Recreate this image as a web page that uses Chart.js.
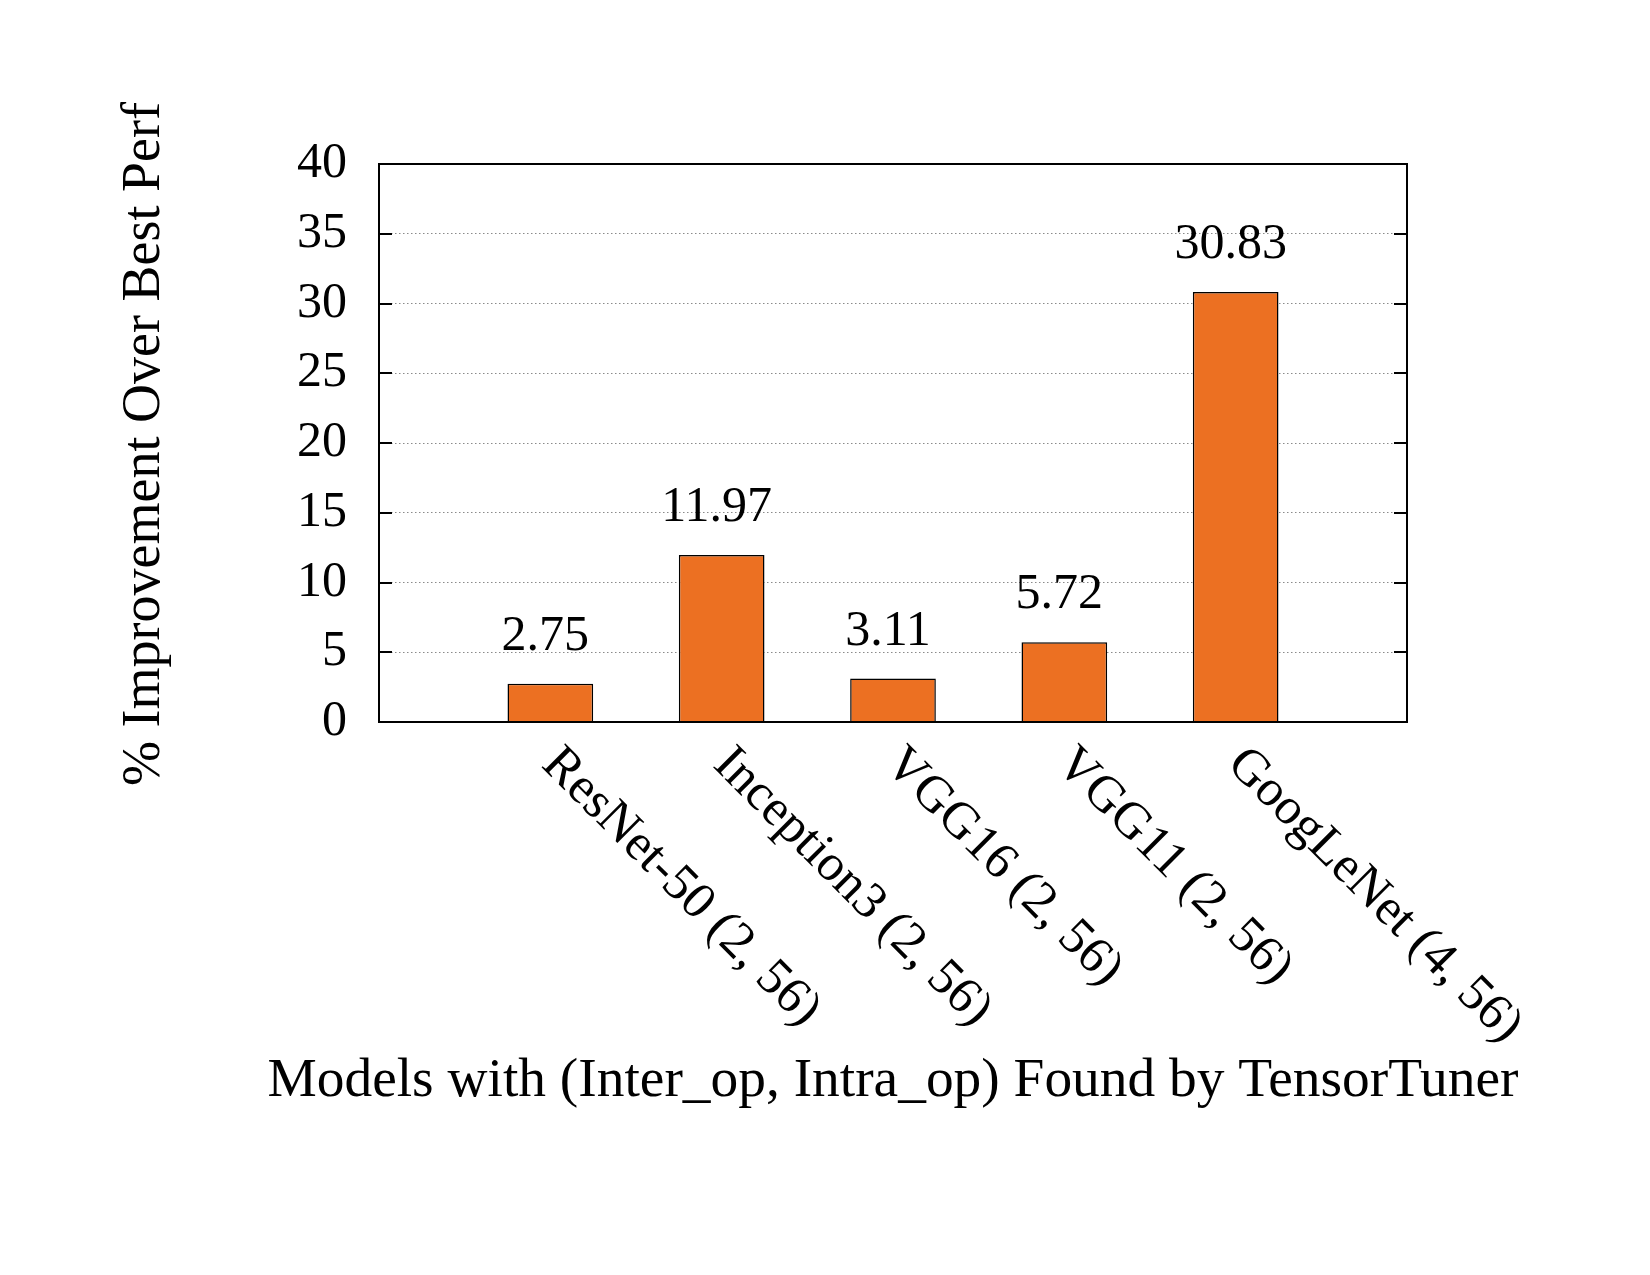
<!DOCTYPE html>
<html>
<head>
<meta charset="utf-8">
<script src="https://cdn.jsdelivr.net/npm/chart.js@4"></script>
<style>
  html, body { margin: 0; padding: 0; background: #ffffff; }
  #wrap { width: 1650px; height: 1275px; }
</style>
</head>
<body>
<div id="wrap"><canvas id="c" width="1650" height="1275"></canvas></div>
<script>
const models = ['ResNet-50 (2, 56)', 'Inception3 (2, 56)', 'VGG16 (2, 56)', 'VGG11 (2, 56)', 'GoogLeNet (4, 56)'];
const improvement = [2.75, 11.97, 3.11, 5.72, 30.83];
const yTicks = [0, 5, 10, 15, 20, 25, 30, 35, 40];
const yTitle = '% Improvement Over Best Perf';
const xTitle = 'Models with (Inter_op, Intra_op) Found by TensorTuner';

const FONT = "'Liberation Serif', 'DejaVu Serif', serif";
const labels = [''].concat(models, ['']);
const values = [null].concat(improvement, [null]);

const decorPlugin = {
  id: 'decor',
  afterDatasetsDraw(chart) {
    const ctx = chart.ctx;
    const a = chart.chartArea;
    const y = chart.scales.y;
    ctx.save();
    ctx.strokeStyle = '#000';
    ctx.lineWidth = 2;
    yTicks.forEach(v => {
      const py = Math.round(y.getPixelForValue(v));
      ctx.beginPath();
      ctx.moveTo(a.left, py); ctx.lineTo(a.left + 13, py);
      ctx.moveTo(a.right - 13, py); ctx.lineTo(a.right, py);
      ctx.stroke();
    });
    ctx.strokeRect(a.left, a.top, a.right - a.left, a.bottom - a.top);
    const meta = chart.getDatasetMeta(0);
    ctx.fillStyle = '#000';
    ctx.font = '50px ' + FONT;
    ctx.textAlign = 'center';
    ctx.textBaseline = 'alphabetic';
    meta.data.forEach((bar, i) => {
      const v = values[i];
      if (v === null || v === undefined) return;
      ctx.fillText(v.toFixed(2), bar.x - 5, bar.y - 34);
    });
    ctx.restore();
  },
  afterDraw(chart) {
    const ctx = chart.ctx;
    const a = chart.chartArea;
    const x = chart.scales.x;
    ctx.save();
    ctx.fillStyle = '#000';
    ctx.font = '51.5px ' + FONT;
    ctx.textAlign = 'left';
    ctx.textBaseline = 'alphabetic';
    labels.forEach((lab, i) => {
      if (!lab) return;
      const px = x.getPixelForValue(i);
      ctx.save();
      ctx.translate(px - 10, a.bottom + 44);
      ctx.rotate(Math.PI / 4);
      ctx.fillText(lab, 0, 0);
      ctx.restore();
    });
    ctx.font = '55.4px ' + FONT;
    ctx.textAlign = 'center';
    ctx.textBaseline = 'middle';
    ctx.fillText(xTitle, (a.left + a.right) / 2, 1081);
    ctx.font = '54px ' + FONT;
    ctx.save();
    ctx.translate(145, (a.top + a.bottom) / 2 + 1);
    ctx.rotate(-Math.PI / 2);
    ctx.fillText(yTitle, 0, 0);
    ctx.restore();
    ctx.restore();
  }
};

new Chart(document.getElementById('c'), {
  type: 'bar',
  data: {
    labels: labels,
    datasets: [{
      data: values,
      backgroundColor: '#ec7022',
      borderColor: '#000000',
      borderWidth: 1.5,
      borderSkipped: 'start',
      barPercentage: 0.5,
      categoryPercentage: 1.0
    }]
  },
  options: {
    responsive: false,
    devicePixelRatio: 1,
    animation: false,
    layout: { padding: { left: 0, top: 164, right: 243, bottom: 553 } },
    plugins: { legend: { display: false }, tooltip: { enabled: false }, title: { display: false } },
    scales: {
      x: {
        type: 'category',
        offset: false,
        grid: { display: false, drawTicks: false },
        border: { display: false },
        ticks: { display: false },
        afterFit(scale) { scale.height = 0; }
      },
      y: {
        min: 0, max: 40,
        afterBuildTicks(scale) { scale.ticks = yTicks.map(v => ({ value: v })); },
        grid: { color: '#8a8a8a', lineWidth: 1, drawTicks: false, tickLength: 0 },
        border: { display: false, dash: [1.5, 2.5] },
        ticks: { color: '#000', font: { family: FONT, size: 50 }, padding: 32 },
        afterFit(scale) { scale.width = 379; }
      }
    }
  },
  plugins: [decorPlugin]
});
</script>
</body>
</html>
